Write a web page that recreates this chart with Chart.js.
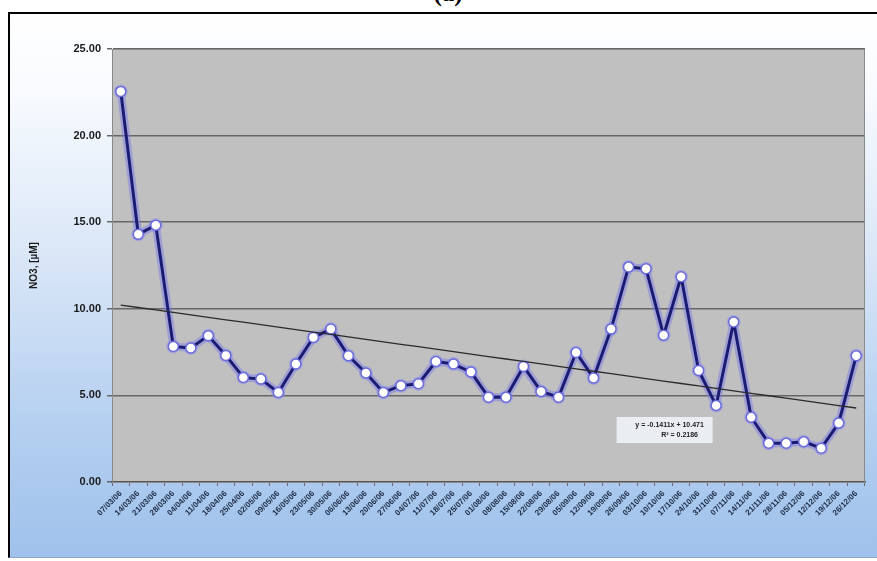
<!DOCTYPE html>
<html>
<head>
<meta charset="utf-8">
<script src="https://cdn.jsdelivr.net/npm/chart.js@4"></script>
<style>
  html, body { margin: 0; padding: 0; background: #fff; }
  body { position: relative; width: 877px; height: 561px; overflow: hidden; }
  #titulo { position: absolute; top: -20px; left: 0; width: 896px; text-align: center;
            font: bold 25px "Liberation Serif", serif; line-height: 25px; color: #000; }
  #marco { position: absolute; left: 8px; top: 12px; width: 880px; height: 543px;
           border-top: 2px solid #000; border-left: 2px solid #000; border-bottom: 1px solid #8aa6c8;
           background: linear-gradient(to bottom, #ffffff 0%, #f7fafe 15%, #d9e6f7 45%, #b5d0f0 75%, #9fc1eb 100%); }
  #grafica { position: absolute; left: 0; top: 0; }
</style>
</head>
<body>
<div id="titulo">(a)</div>
<div id="marco"></div>
<canvas id="grafica" width="877" height="561"></canvas>
<script>
// Fechas de muestreo (eje X)
const fechas = ["07/03/06","14/03/06","21/03/06","28/03/06","04/04/06","11/04/06","18/04/06","25/04/06",
  "02/05/06","09/05/06","16/05/06","23/05/06","30/05/06","06/06/06","13/06/06","20/06/06","27/06/06",
  "04/07/06","11/07/06","18/07/06","25/07/06","01/08/06","08/08/06","15/08/06","22/08/06","29/08/06",
  "05/09/06","12/09/06","19/09/06","26/09/06","03/10/06","10/10/06","17/10/06","24/10/06","31/10/06",
  "07/11/06","14/11/06","21/11/06","28/11/06","05/12/06","12/12/06","19/12/06","26/12/06"];

// NO3 [uM]
const no3 = [22.55, 14.30, 14.83, 7.83, 7.74, 8.45, 7.31, 6.04, 5.94, 5.17,
  6.81, 8.35, 8.83, 7.29, 6.29, 5.17, 5.56, 5.67, 6.96, 6.81, 6.35, 4.90,
  4.90, 6.67, 5.23, 4.90, 7.48, 6.00, 8.83, 12.42, 12.31, 8.47, 11.85,
  6.44, 4.42, 9.24, 3.74, 2.24, 2.24, 2.33, 1.95, 3.40, 7.29];

const yTicks = [0, 5, 10, 15, 20, 25];
const ecuacion = ["y = -0.1411x + 10.471", "R\u00b2 = 0.2186"];

// Linea de tendencia (minimos cuadrados sobre los datos)
const n = no3.length;
let sx = 0, sy = 0, sxy = 0, sxx = 0;
no3.forEach((v, i) => { const x = i + 1; sx += x; sy += v; sxy += x * v; sxx += x * x; });
const pend = (n * sxy - sx * sy) / (n * sxx - sx * sx);
const orig = (sy - pend * sx) / n;
const tendencia = no3.map((v, i) => pend * (i + 1) + orig);

// Fondo gris del area de trazado
const fondoPlot = {
  id: 'fondoPlot',
  beforeDraw(chart) {
    const { ctx, chartArea: a } = chart;
    ctx.save();
    ctx.fillStyle = '#c0c0c0';
    ctx.fillRect(a.left, a.top, a.right - a.left, a.bottom - a.top);
    ctx.restore();
  },
  afterDraw(chart) {
    const { ctx, chartArea: a } = chart;
    ctx.save();
    ctx.strokeStyle = '#8a8a8a';
    ctx.lineWidth = 1;
    ctx.strokeRect(a.left + 0.5, a.top + 0.5, a.right - a.left - 1, a.bottom - a.top);
    ctx.restore();
  }
};

// Cuadro con la ecuacion de la tendencia
const cuadroEc = {
  id: 'cuadroEc',
  afterDatasetsDraw(chart) {
    const { ctx, scales } = chart;
    const cx = scales.x.getPixelForValue(31);
    const cy = scales.y.getPixelForValue(3.0);
    ctx.save();
    ctx.fillStyle = 'rgba(236,240,246,0.95)';
    ctx.fillRect(cx - 47, cy - 13, 96, 26);
    ctx.fillStyle = '#222';
    ctx.font = 'bold 7px Arial';
    ctx.textAlign = 'center';
    ctx.textBaseline = 'middle';
    ctx.fillText(ecuacion[0], cx + 6, cy - 5);
    ctx.fillText(ecuacion[1], cx + 16, cy + 5);
    ctx.restore();
  }
};

new Chart(document.querySelector('#grafica'), {
  type: 'line',
  data: {
    labels: fechas,
    datasets: [
      {
        label: 'tendencia',
        data: tendencia,
        borderColor: '#2b2b2b',
        borderWidth: 1.3,
        pointRadius: 0,
        order: 0
      },
      {
        label: 'NO3',
        data: no3,
        borderColor: '#1b1b74',
        borderWidth: 3,
        borderJoinStyle: 'round',
        pointRadius: 5,
        pointBackgroundColor: '#ffffff',
        pointBorderColor: '#6b6bd8',
        pointBorderWidth: 1.5,
        order: 1
      },
      {
        label: 'halo',
        data: no3,
        borderColor: 'rgba(120,120,235,0.45)',
        borderWidth: 8,
        borderJoinStyle: 'round',
        pointRadius: 7,
        pointBackgroundColor: 'rgba(140,140,240,0.5)',
        pointBorderWidth: 0,
        order: 2
      }
    ]
  },
  options: {
    responsive: false,
    animation: false,
    layout: { padding: { left: 0, top: 49, right: 12, bottom: 0 } },
    plugins: {
      legend: { display: false },
      tooltip: { enabled: false }
    },
    scales: {
      x: {
        offset: true,
        afterFit: (s) => { s.height = 79; },
        grid: { drawOnChartArea: false, offset: true, tickLength: 4, color: '#6a6a6a' },
        border: { color: '#555555', width: 1.5 },
        ticks: {
          autoSkip: false,
          minRotation: 45,
          maxRotation: 45,
          padding: 3,
          color: '#1c2a44',
          font: { family: 'Arial', size: 8, weight: 'bold' }
        }
      },
      y: {
        min: 0,
        max: 25,
        afterFit: (s) => { s.width = 112; },
        afterBuildTicks: (s) => { s.ticks = yTicks.map(v => ({ value: v })); },
        title: {
          display: true,
          text: 'NO3, [\u00b5M]',
          color: '#1a1a1a',
          font: { family: 'Arial', size: 10, weight: 'bold' },
          padding: { top: 28, bottom: 0 }
        },
        grid: { color: '#666666', lineWidth: 1.5, tickLength: 5 },
        border: { color: '#808080' },
        ticks: {
          padding: 6,
          color: '#1a1a1a',
          font: { family: 'Arial', size: 11, weight: 'bold' },
          callback: (v) => Number(v).toFixed(2)
        }
      }
    }
  },
  plugins: [fondoPlot, cuadroEc]
});
</script>
</body>
</html>
